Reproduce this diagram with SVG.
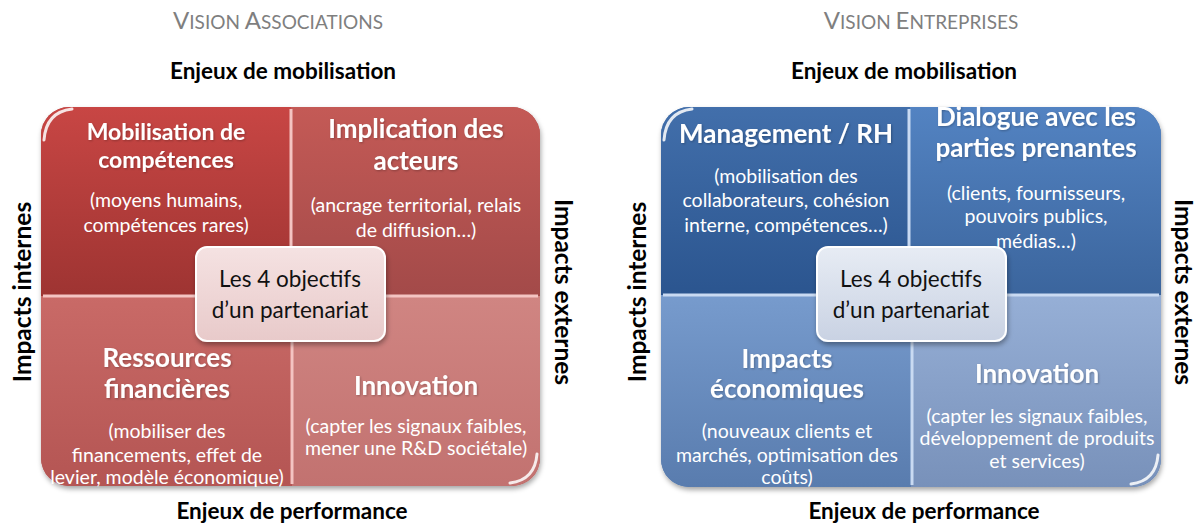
<svg xmlns="http://www.w3.org/2000/svg" width="1197" height="524" viewBox="0 0 1197 524">
  <style>
    text { font-family: Lato, "Open Sans", "Liberation Sans", sans-serif; }
    .title { fill: #7f7f7f; text-anchor: middle; }
    .axis { font-weight: bold; font-size: 22.5px; fill: #000; text-anchor: middle; }
    .vaxis { font-size: 24.5px; }
    .head { font-weight: bold; font-size: 26px; fill: #fff; text-anchor: middle; filter: url(#txtShadow); }
    .head.small { font-size: 23px; }
    .sub { font-size: 19.5px; fill: #fff; text-anchor: middle; }
    .core { font-size: 22.5px; fill: #111; text-anchor: middle; }
    .sepR { stroke: #f4c4c2; stroke-width: 3; }
    .sepB { stroke: #c9daf2; stroke-width: 3; }
    .gloss { fill: none; stroke: #fff; stroke-width: 3; stroke-linecap: round; opacity: 0.85; }
    .coreBox { stroke: #fff; stroke-width: 2; filter: url(#boxShadow); }
  </style>
  <defs>
    <filter id="boxShadow" x="-10%" y="-10%" width="130%" height="140%">
      <feDropShadow dx="1" dy="3" stdDeviation="2.5" flood-color="#000" flood-opacity="0.35"/>
    </filter>
    <filter id="txtShadow" x="-5%" y="-20%" width="110%" height="150%">
      <feDropShadow dx="1" dy="1" stdDeviation="1" flood-color="#000" flood-opacity="0.25"/>
    </filter>
    <!-- red quadrants -->
    <linearGradient id="rTL" x1="0" y1="0" x2="0" y2="1"><stop offset="0" stop-color="#c84644"/><stop offset="1" stop-color="#9e3432"/></linearGradient>
    <linearGradient id="rTR" x1="0" y1="0" x2="0" y2="1"><stop offset="0" stop-color="#c45a56"/><stop offset="1" stop-color="#a34a49"/></linearGradient>
    <linearGradient id="rBL" x1="0" y1="0" x2="0" y2="1"><stop offset="0" stop-color="#c96a67"/><stop offset="1" stop-color="#b45553"/></linearGradient>
    <linearGradient id="rBR" x1="0" y1="0" x2="0" y2="1"><stop offset="0" stop-color="#d08582"/><stop offset="1" stop-color="#c27270"/></linearGradient>
    <linearGradient id="rCore" x1="0" y1="0" x2="0" y2="1"><stop offset="0" stop-color="#f5e2e2"/><stop offset="1" stop-color="#e8caca"/></linearGradient>
    <!-- blue quadrants -->
    <linearGradient id="bTL" x1="0" y1="0" x2="0" y2="1"><stop offset="0" stop-color="#426fab"/><stop offset="1" stop-color="#2b558f"/></linearGradient>
    <linearGradient id="bTR" x1="0" y1="0" x2="0" y2="1"><stop offset="0" stop-color="#5383c2"/><stop offset="1" stop-color="#3b659d"/></linearGradient>
    <linearGradient id="bBL" x1="0" y1="0" x2="0" y2="1"><stop offset="0" stop-color="#779bcd"/><stop offset="1" stop-color="#597cae"/></linearGradient>
    <linearGradient id="bBR" x1="0" y1="0" x2="0" y2="1"><stop offset="0" stop-color="#96afd6"/><stop offset="1" stop-color="#7891ba"/></linearGradient>
    <linearGradient id="bCore" x1="0" y1="0" x2="0" y2="1"><stop offset="0" stop-color="#e7ecf4"/><stop offset="1" stop-color="#c9d2e3"/></linearGradient>
    <clipPath id="clipA"><rect x="41" y="107" width="499" height="379" rx="28"/></clipPath>
    <clipPath id="clipE"><rect x="661" y="107" width="500" height="380" rx="28"/></clipPath>
  </defs>

  <!-- ===== Associations ===== -->
  <g id="vision-associations">
    <text class="title" x="278" y="29"><tspan font-size="24">V</tspan><tspan font-size="19">ISION </tspan><tspan font-size="24">A</tspan><tspan font-size="19">SSOCIATIONS</tspan></text>
    <text class="axis" x="283" y="79">Enjeux de mobilisation</text>
    <text class="axis" x="292" y="519">Enjeux de performance</text>
    <text class="axis vaxis" transform="translate(31 292) rotate(-90)">Impacts internes</text>
    <text class="axis vaxis" transform="translate(555 292) rotate(90)">Impacts externes</text>
  </g>

  <g id="matrix-associations">
    <rect x="41" y="107" width="499" height="379" rx="28" fill="#b04a48" filter="url(#boxShadow)"/>
    <g clip-path="url(#clipA)">
      <rect x="41" y="107" width="250" height="189" fill="url(#rTL)"/>
      <rect x="291" y="107" width="249" height="189" fill="url(#rTR)"/>
      <rect x="41" y="296" width="251" height="190" fill="url(#rBL)"/>
      <rect x="292" y="296" width="248" height="190" fill="url(#rBR)"/>
    </g>
    <g id="dividers-associations">
      <line class="sepR" x1="291" y1="109" x2="291" y2="296"/>
      <line class="sepR" x1="292" y1="296" x2="292" y2="484"/>
      <line class="sepR" x1="43" y1="296" x2="538" y2="296"/>
    </g>
    <path class="gloss" d="M44 140 Q46 112 72 109"/>
    <path class="gloss" d="M537 454 Q535 480 510 483" opacity="0.6"/>
  </g>

  <g id="a-competences">
    <text class="head small" x="166" y="140">Mobilisation de</text>
    <text class="head small" x="166" y="168">compétences</text>
    <text class="sub" x="166" y="207">(moyens humains,</text>
    <text class="sub" x="166" y="232">compétences rares)</text>
  </g>
  <g id="a-acteurs">
    <text class="head" x="416" y="138">Implication des</text>
    <text class="head" x="416" y="170">acteurs</text>
    <text class="sub" x="416" y="212">(ancrage territorial, relais</text>
    <text class="sub" x="416" y="237">de diffusion…)</text>
  </g>
  <g id="a-ressources">
    <text class="head" x="167" y="367">Ressources</text>
    <text class="head" x="167" y="398">financières</text>
    <text class="sub" x="167" y="438">(mobiliser des</text>
    <text class="sub" x="167" y="462">financements, effet de</text>
    <text class="sub" x="167" y="484">levier, modèle économique)</text>
  </g>
  <g id="a-innovation">
    <text class="head" x="416" y="395">Innovation</text>
    <text class="sub" x="416" y="433">(capter les signaux faibles,</text>
    <text class="sub" x="416" y="455">mener une R&amp;D sociétale)</text>
  </g>
  <g id="a-core">
    <rect class="coreBox" x="196" y="247" width="189" height="94" rx="11" fill="url(#rCore)"/>
    <text class="core" x="290" y="287">Les 4 objectifs</text>
    <text class="core" x="290" y="318">d’un partenariat</text>
  </g>

  <!-- ===== Entreprises ===== -->
  <g id="vision-entreprises">
    <text class="title" x="921" y="29"><tspan font-size="24">V</tspan><tspan font-size="19">ISION </tspan><tspan font-size="24">E</tspan><tspan font-size="19">NTREPRISES</tspan></text>
    <text class="axis" x="904" y="79">Enjeux de mobilisation</text>
    <text class="axis" x="924" y="519">Enjeux de performance</text>
    <text class="axis vaxis" transform="translate(646 292) rotate(-90)">Impacts internes</text>
    <text class="axis vaxis" transform="translate(1175 292) rotate(90)">Impacts externes</text>
  </g>

  <g id="matrix-entreprises">
    <rect x="661" y="107" width="500" height="380" rx="28" fill="#4a72aa" filter="url(#boxShadow)"/>
    <g clip-path="url(#clipE)">
      <rect x="661" y="107" width="249" height="188" fill="url(#bTL)"/>
      <rect x="910" y="107" width="251" height="188" fill="url(#bTR)"/>
      <rect x="661" y="295" width="250" height="192" fill="url(#bBL)"/>
      <rect x="911" y="295" width="250" height="192" fill="url(#bBR)"/>
    </g>
    <g id="dividers-entreprises">
      <line class="sepB" x1="909" y1="109" x2="909" y2="295"/>
      <line class="sepB" x1="912" y1="295" x2="912" y2="485"/>
      <line class="sepB" x1="663" y1="295" x2="1159" y2="295"/>
    </g>
    <path class="gloss" d="M664 140 Q666 112 692 109"/>
    <path class="gloss" d="M1158 455 Q1156 481 1131 484" opacity="0.6"/>
  </g>

  <g id="e-management">
    <text class="head" x="786" y="143">Management / RH</text>
    <text class="sub" x="786" y="183">(mobilisation des</text>
    <text class="sub" x="786" y="207">collaborateurs, cohésion</text>
    <text class="sub" x="786" y="232">interne, compétences…)</text>
  </g>
  <g id="e-dialogue">
    <text class="head" x="1036" y="126">Dialogue avec les</text>
    <text class="head" x="1036" y="157">parties prenantes</text>
    <text class="sub" x="1036" y="200">(clients, fournisseurs,</text>
    <text class="sub" x="1036" y="223">pouvoirs publics,</text>
    <text class="sub" x="1036" y="248">médias…)</text>
  </g>
  <g id="e-economiques">
    <text class="head" x="787" y="368">Impacts</text>
    <text class="head" x="787" y="398">économiques</text>
    <text class="sub" x="787" y="438">(nouveaux clients et</text>
    <text class="sub" x="787" y="462">marchés, optimisation des</text>
    <text class="sub" x="787" y="484">coûts)</text>
  </g>
  <g id="e-innovation">
    <text class="head" x="1037" y="383">Innovation</text>
    <text class="sub" x="1037" y="423">(capter les signaux faibles,</text>
    <text class="sub" x="1037" y="445">développement de produits</text>
    <text class="sub" x="1037" y="468">et services)</text>
  </g>
  <g id="e-core">
    <rect class="coreBox" x="817" y="247" width="189" height="94" rx="11" fill="url(#bCore)"/>
    <text class="core" x="911" y="287">Les 4 objectifs</text>
    <text class="core" x="911" y="318">d’un partenariat</text>
  </g>
</svg>
